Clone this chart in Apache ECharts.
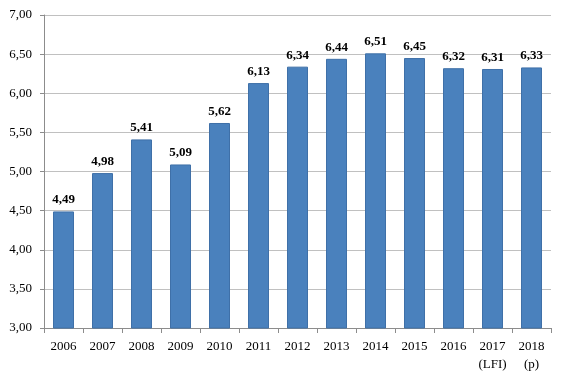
<!DOCTYPE html>
<html><head><meta charset="utf-8">
<script src="https://cdn.jsdelivr.net/npm/echarts@6/dist/echarts.min.js"></script>
<style>html,body{margin:0;padding:0;background:#fff}#c{width:567px;height:379px}</style>
</head><body><div id="c"></div>
<script>
const categories = ['2006','2007','2008','2009','2010','2011','2012','2013','2014','2015','2016','2017\n(LFI)','2018\n(p)'];
const values = [4.49,4.98,5.41,5.09,5.62,6.13,6.34,6.44,6.51,6.45,6.32,6.31,6.33];
const fmt = v => v.toFixed(2).replace('.', ',');
const font = '"Liberation Serif", "DejaVu Serif", serif';
const chart = echarts.init(document.getElementById('c'), null, {renderer:'canvas'});
chart.setOption({
  animation:false,
  grid:{left:44,right:16,top:15,bottom:51,containLabel:false},
  xAxis:{type:'category',data:categories,
    axisLine:{lineStyle:{color:'#8c8c8c'}},
    axisTick:{show:true,length:5,lineStyle:{color:'#8c8c8c'}},
    axisLabel:{color:'#000',fontFamily:font,fontSize:13,margin:10,lineHeight:18,interval:0}},
  yAxis:{type:'value',min:3,max:7,interval:0.5,
    axisLine:{show:true,lineStyle:{color:'#8c8c8c'}},
    axisTick:{show:true,length:4,lineStyle:{color:'#8c8c8c'}},
    splitLine:{lineStyle:{color:'#c0c0c0'}},
    axisLabel:{color:'#000',fontFamily:font,fontSize:13,margin:12,formatter:v=>fmt(v)}},
  series:[{type:'bar',data:values,barWidth:21,
    itemStyle:{color:'#4a81bd',borderColor:'#3f70a8',borderWidth:1},
    label:{show:true,position:'top',distance:5,fontFamily:font,fontSize:13,fontWeight:'bold',color:'#000',formatter:p=>fmt(p.value)}}]
});
</script></body></html>
